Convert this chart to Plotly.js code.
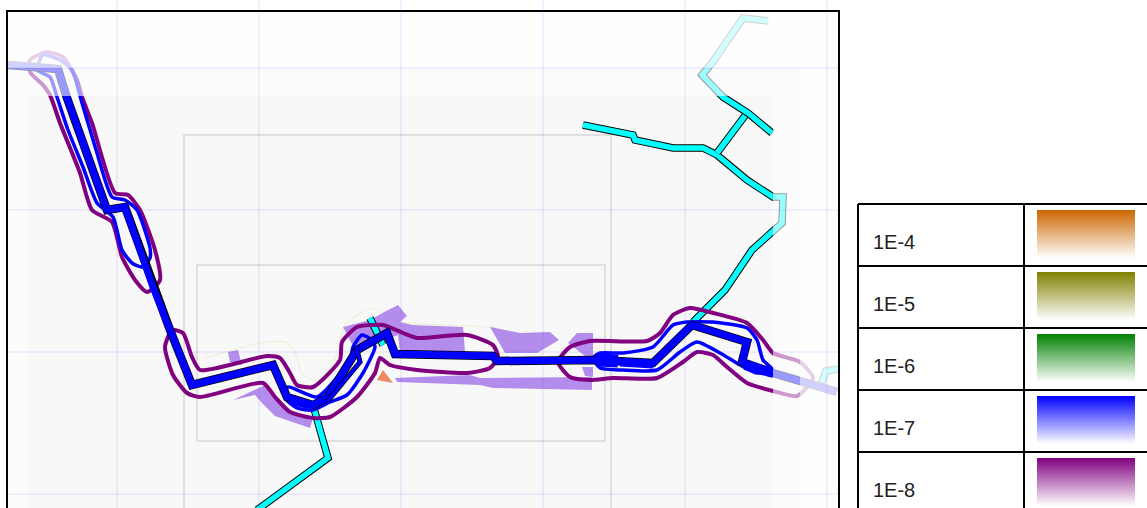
<!DOCTYPE html>
<html><head><meta charset="utf-8">
<script src="https://cdn.plot.ly/plotly-3.0.1.min.js"></script>
<style>html,body{margin:0;padding:0;background:#fff;overflow:hidden}#c{width:1147px;height:508px}</style>
</head><body><div id="c"></div>
<script>
// grid
const gridX=[117,259,401,543,685,827];
const gridY=[68,210,352,494];
// fade zones [x0,x1,y0]
const fadeInner=[28,773,96];
const fadeOuter=[8,800,68];
// thin map frames [x0,y0,x1,y1]
const frameOuter=[184,135,611,520];
const frameInner=[197,265,605,441];
// main route
const routeX=[8,58,67,107,125,153,170,192,273,287,313,327,357,387,395,493,497,597,653,692,747,742,773,837];
const routeY=[65,69,98,210,207,287,330,385,365,397,405,398,350,333,354,356,361,360,363,325,342,362,373,392];
// extra route pieces
const thickAX=[597,618];const thickAY=[360,361];
const thickBX=[745,773];const thickBY=[365,373];
const thickCX=[290,313];const thickCY=[400,406];
const parallelX=[327,360,356];const parallelY=[402,362,346];
const parallel2X=[620,653];const parallel2Y=[364,366];
// cyan lines
const cyanAX=[313,328,257];const cyanAY=[405,458,510];
const cyanBX=[370,377,383];const cyanBY=[318,333,345];
const cyanCX=[693,725,752,773,782,783,773,747,717,703,673,635,633,583];
const cyanCY=[322,290,250,230,223,197,197,180,155,148,148,140,135,125];
const cyanDX=[717,747];const cyanDY=[153,113];
const cyanEX=[772,748,723,702,712,743,768];const cyanEY=[133,113,97,75,63,18,21];
const cyanFX=[820,826,838];const cyanFY=[388,371,369];
// contours 1E-8
const p1X=[47,63,77,82,92,115,128,140,155,160,147,135,122,112,92,80,60,50,43,30,30,47];
const p1Y=[52,57,80,97,123,193,195,210,250,280,292,280,257,222,210,173,123,95,85,72,60,52];
const p2X=[172,183,192,200,267,280,290,297,313,340,342,357,383,403,417,467,493,498,490,467,417,390,380,375,357,330,313,290,275,263,200,187,173,165,172];
const p2Y=[330,333,357,370,356,358,373,385,387,360,342,327,325,333,338,335,345,357,368,373,370,365,358,373,397,417,418,412,397,383,397,393,375,347,330];
const p3X=[558,570,590,647,660,673,690,713,747,763,773,800,813,797,773,747,727,713,697,683,657,613,590,570,558];
const p3Y=[362,347,341,341,333,315,308,313,323,340,353,362,378,396,391,383,367,355,352,362,378,378,380,377,362];
// contours 1E-7
const b1X=[72,82,88,97,112,125,137,150,150,142,132,122,113,97,83,68,57,50,37,43,60,72];
const b1Y=[70,103,123,153,197,200,210,248,258,267,263,250,217,203,167,130,97,77,70,55,60,70];
const b2X=[288,317,350,353,362,372,375,363,347,330,313,297,285,288];
const b2Y=[387,397,360,347,335,340,347,373,395,402,410,408,398,387];
const b3X=[593,600,623,653,673,687,713,747,757,763,773,757,740,720,697,680,657,623,600,593];
const b3Y=[358,353,353,347,325,322,322,328,340,360,370,373,365,353,342,352,370,370,368,358];
// faint outer contour
const faintX=[205,260,285,295,303,320,338,345,372,400,470,500];
const faintY=[358,343,342,352,375,380,352,325,308,322,326,328];
// purple impact areas
const areaX=[[228,238,242,230],[233,265,290,313,310,275,262,255],[343,370,388,398,407,400,412,463,465,400,398,372,355],[395,470,480,592,592,493,480,397],[490,520,550,559,537,505],[577,593,593,568],[582,593,593,585]];
const areaY=[[352,350,365,362],[400,385,410,418,428,416,403,395],[327,320,310,305,316,322,325,327,352,352,335,345,350],[378,375,378,377,390,388,385,382],[327,333,332,340,353,353],[333,333,362,343],[367,367,377,376]];
const orangeX=[383,393,377];const orangeY=[370,383,380];
// legend
const legendLabels=['1E-4','1E-5','1E-6','1E-7','1E-8'];
const legendColors=['#cc6600','#808000','#008000','#0000ff','#800080'];
const rowTops=[204,266,328,390,452];
const tableX=[858,1024,1147];
const swatchX=[1037,1135];

const traces=[];
const line=(x,y,c,w)=>({x,y,mode:'lines',line:{color:c,width:w},hoverinfo:'skip',showlegend:false});
const spline=(x,y,c,w)=>({x,y,mode:'lines',line:{color:c,width:w,shape:'spline',smoothing:0.6},hoverinfo:'skip',showlegend:false});
traces.push(spline(faintX,faintY,'#f0f0dc',1.5));
areaX.forEach((a,i)=>traces.push({x:a.concat(a[0]),y:areaY[i].concat(areaY[i][0]),mode:'lines',fill:'toself',fillcolor:'#b48cec',line:{width:0},hoverinfo:'skip',showlegend:false}));
traces.push({x:orangeX,y:orangeY,mode:'lines',fill:'toself',fillcolor:'#ee8a60',line:{width:0},hoverinfo:'skip',showlegend:false});
[[cyanAX,cyanAY],[cyanBX,cyanBY],[cyanCX,cyanCY],[cyanDX,cyanDY],[cyanEX,cyanEY],[cyanFX,cyanFY]].forEach(p=>{
  traces.push(line(p[0],p[1],'#000',7.5));traces.push(line(p[0],p[1],'#00ffff',5.5));});
[[p1X,p1Y],[p2X,p2Y],[p3X,p3Y]].forEach(p=>traces.push(spline(p[0],p[1],'#800080',4)));
[[b1X,b1Y],[b2X,b2Y],[b3X,b3Y]].forEach(p=>traces.push(spline(p[0],p[1],'#0000ff',3.5)));
traces.push(line(routeX,routeY,'#000',8.5));
traces.push(line(routeX,routeY,'#0000ff',7));
traces.push(line(parallelX,parallelY,'#000',5));
traces.push(line(parallelX,parallelY,'#0000ff',3.5));
traces.push(line(thickAX,thickAY,'#0000ff',13));
traces.push(line(thickBX,thickBY,'#0000ff',10));
traces.push(line(thickCX,thickCY,'#0000ff',9));
traces.push(line(parallel2X,parallel2Y,'#0000ff',5));

// legend swatches
legendColors.forEach((c,i)=>{
  const t=rowTops[i]+6,b=rowTops[i]+54;
  traces.push({x:[swatchX[0],swatchX[1],swatchX[1],swatchX[0],swatchX[0]],y:[t,t,b,b,t],xaxis:'x2',yaxis:'y2',mode:'none',fill:'toself',
    fillgradient:{type:'vertical',colorscale:[[0,'#ffffff'],[1,c]]},hoverinfo:'skip',showlegend:false});
});

const shapes=[];
const rect=(f,col)=>({type:'rect',xref:'x',yref:'y',x0:f[0],y0:f[1],x1:f[2],y1:f[3],layer:'below',line:{color:col,width:2},fillcolor:'rgba(0,0,0,0)'});
shapes.push({type:'rect',xref:'x',yref:'y',x0:8,x1:838,y0:12,y1:508,layer:'below',line:{width:0},fillcolor:'#f8f8f8'});
shapes.push(rect(frameOuter,'#e0e0e0'));
shapes.push(rect(frameInner,'#e0e0e0'));
const fade=(z,a)=>({type:'path',xref:'x',yref:'y',layer:'above',fillrule:'evenodd',fillcolor:'rgba(255,255,255,'+a+')',line:{width:0},
  path:`M8,12H838V510H8Z M${z[0]},${z[2]}H${z[1]}V510H${z[0]}Z`});
shapes.push(fade(fadeInner,0.6));
shapes.push(fade(fadeOuter,0.55));
gridX.forEach(v=>shapes.push({type:'line',xref:'x',yref:'paper',x0:v,x1:v,y0:0,y1:1,layer:'above',line:{color:'rgba(70,70,255,0.16)',width:1}}));
gridY.forEach(v=>shapes.push({type:'line',xref:'paper',yref:'y',x0:8/1147,x1:838/1147,y0:v,y1:v,layer:'above',line:{color:'rgba(70,70,255,0.16)',width:1}}));
// legend table rules
rowTops.forEach(v=>shapes.push({type:'line',xref:'x2',yref:'y2',x0:tableX[0],x1:tableX[2],y0:v,y1:v,line:{color:'#000',width:2}}));
tableX.slice(0,2).forEach(v=>shapes.push({type:'line',xref:'x2',yref:'y2',x0:v,x1:v,y0:rowTops[0],y1:508,line:{color:'#000',width:2}}));

const annotations=legendLabels.map((l,i)=>({xref:'x2',yref:'y2',x:870.5,y:rowTops[i]+38,text:l,showarrow:false,xanchor:'left',yanchor:'middle',font:{family:'Liberation Sans, Arial, sans-serif',size:20,color:'#222'}}));

const layout={width:1147,height:508,margin:{l:0,r:0,t:0,b:0},paper_bgcolor:'#fff',plot_bgcolor:'#fff',showlegend:false,
  xaxis:{domain:[8/1147,838/1147],range:[8,838],showgrid:false,zeroline:false,showticklabels:false,ticks:'',showline:true,linecolor:'#000',linewidth:2,mirror:true,fixedrange:true},
  yaxis:{domain:[0,496/508],range:[508,12],showgrid:false,zeroline:false,showticklabels:false,ticks:'',showline:true,linecolor:'#000',linewidth:2,mirror:true,fixedrange:true},
  xaxis2:{domain:[850/1147,1],range:[850,1147],visible:false,anchor:'y2',fixedrange:true},
  yaxis2:{domain:[0,1],range:[508,0],visible:false,anchor:'x2',fixedrange:true},
  shapes,annotations};
Plotly.newPlot('c',traces,layout,{displayModeBar:false,staticPlot:true});
</script></body></html>
